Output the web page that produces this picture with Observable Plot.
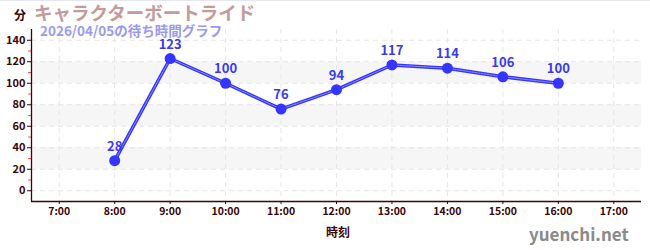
<!DOCTYPE html>
<html><head><meta charset="utf-8">
<script src="https://cdn.jsdelivr.net/npm/d3@7"></script>
<script src="https://cdn.jsdelivr.net/npm/@observablehq/plot@0.6"></script>
<style>
body{margin:0;background:#fff;}
#wrap{position:relative;width:650px;height:250px;overflow:hidden;font-family:"Noto Sans CJK JP","Noto Sans",sans-serif;border-top:1px solid #e6e6f4;box-sizing:border-box;}
#wrap svg{position:absolute;left:0;top:-1px;}
.t{position:absolute;white-space:nowrap;line-height:1;}
</style></head>
<body><div id="wrap"></div>
<script>
const title = "キャラクターボートライド";
const subtitle = "2026/04/05の待ち時間グラフ";
const yUnit = "分";
const xLabel = "時刻";
const credit = "yuenchi.net";
const hours = [8, 9, 10, 11, 12, 13, 14, 15, 16];
const waits = [28, 123, 100, 76, 94, 117, 114, 106, 100];
const xTicks = [7, 8, 9, 10, 11, 12, 13, 14, 15, 16, 17];
const yTicks = [0, 20, 40, 60, 80, 100, 120, 140];
const yMinor = [10, 30, 50, 70, 90, 110, 130];
const xDomain = [6.5, 17.5];
const yDomain = [-10, 150];

const data = hours.map((h, i) => ({h, v: waits[i]}));
const bands = yTicks.filter((t, i) => i % 2 === 1 && t + 20 <= yTicks[yTicks.length - 1]).map(t => ({y1: t, y2: t + 20}));
const axisColor = "#3a0508";
const blue = "#3535ff";

const chart = Plot.plot({
  width: 650, height: 250,
  marginLeft: 31, marginRight: 9, marginTop: 29, marginBottom: 49,
  style: {fontFamily: '"Noto Sans CJK JP","Noto Sans",sans-serif', background: "transparent"},
  x: {domain: xDomain},
  y: {domain: yDomain},
  marks: [
    Plot.rect(bands, {y1: "y1", y2: "y2", fill: "#f6f6f6"}),
    Plot.ruleX(xTicks, {stroke: "#e6e6e6", strokeDasharray: "5,4"}),
    Plot.ruleY(yTicks, {stroke: "#e6e6e6", strokeDasharray: "5,4"}),
    Plot.axisY(yMinor, {tickSize: 3, stroke: "#ff5050", tickFormat: () => ""}),
    Plot.axisY(yTicks, {tickSize: 4, tickPadding: 2, stroke: axisColor, color: axisColor, fill: axisColor, fontSize: 11, fontWeight: "bold", label: null}),
    Plot.axisX(xTicks, {tickSize: 3, tickPadding: 3, stroke: axisColor, fill: axisColor, fontSize: 10.5, fontWeight: "bold", tickFormat: d => d + ":00", label: null}),
    Plot.ruleX([xDomain[0]], {stroke: axisColor, strokeWidth: 1.3}),
    Plot.ruleY([yDomain[0]], {stroke: axisColor, strokeWidth: 1.3}),
    Plot.line(data, {x: "h", y: "v", stroke: blue, strokeWidth: 3.5}),
    Plot.line(data, {x: "h", y: "v", stroke: "#8c8cff", strokeWidth: 1, strokeDasharray: "2,1"}),
    Plot.dot(data, {x: "h", y: "v", r: 5.5, fill: blue, stroke: "none"}),
    Plot.text(data, {x: "h", y: "v", text: d => String(d.v), dy: -14, fill: "#3a3aee", fontSize: 13, fontWeight: "bold"})
  ]
});
const wrap = document.getElementById("wrap");
wrap.appendChild(chart);
function addText(txt, css) {
  const d = document.createElement("div");
  d.className = "t"; d.textContent = txt;
  Object.assign(d.style, css); wrap.appendChild(d);
}
addText(yUnit, {left: "14px", top: "8px", fontSize: "12px", fontWeight: "bold", color: axisColor});
addText(title, {left: "34px", top: "2px", fontSize: "18.5px", fontWeight: "bold", color: "#c49a9a"});
addText(subtitle, {left: "40px", top: "23px", fontSize: "13.5px", fontWeight: "bold", color: "#9a9af2"});
addText(xLabel, {left: "326px", top: "225px", fontSize: "12px", fontWeight: "bold", color: axisColor});
addText(credit, {left: "529px", top: "224px", fontSize: "17px", fontWeight: "bold", color: "#8a8a8a"});
</script></body></html>
